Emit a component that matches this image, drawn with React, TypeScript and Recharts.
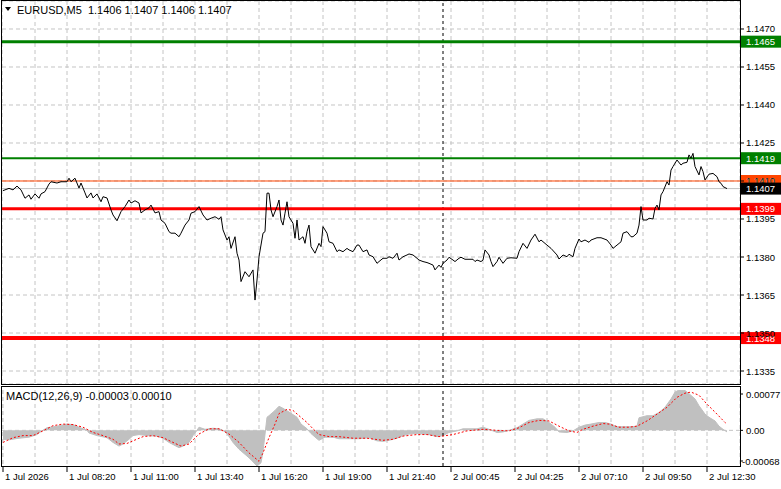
import {
  Area,
  CartesianGrid,
  ComposedChart,
  Line,
  LineChart,
  ReferenceLine,
  XAxis,
  YAxis,
} from "recharts";

// bar index (5-minute bars from the left edge) and close price
const closeSeries: [number, number][] = [
  [0, 1.14062], [3, 1.14071], [5, 1.14065], [7, 1.1408], [9, 1.14065], [11, 1.14032], [13, 1.14045], [14, 1.14028], [16, 1.14049], [18, 1.14032],
  [19, 1.14049], [21, 1.14058], [23, 1.14088], [24, 1.14097], [27, 1.14092], [29, 1.14097], [32, 1.14097], [33, 1.14111], [34, 1.14097], [36, 1.14111],
  [38, 1.14072], [39, 1.14092], [41, 1.14053], [42, 1.14033], [44, 1.14053], [45, 1.14033], [47, 1.14049], [49, 1.14018], [50, 1.14038], [52, 1.14033],
  [54, 1.13986], [55, 1.13966], [57, 1.13943], [59, 1.13979], [61, 1.13999], [63, 1.14025], [64, 1.14013], [66, 1.14022], [68, 1.14013], [69, 1.13974],
  [71, 1.13986], [73, 1.13994], [74, 1.14005], [76, 1.13974], [78, 1.13979], [79, 1.13946], [81, 1.13933], [83, 1.139], [84, 1.13894], [86, 1.13894],
  [88, 1.1388], [89, 1.13894], [91, 1.13926], [93, 1.13946], [94, 1.13973], [96, 1.13979], [98, 1.13999], [100, 1.13966], [102, 1.13946], [104, 1.13953],
  [106, 1.13959], [108, 1.13949], [109, 1.13959], [110, 1.13907], [112, 1.13867], [113, 1.1388], [114, 1.13834], [116, 1.1388], [117, 1.13815], [118, 1.13788],
  [119, 1.13703], [121, 1.13742], [123, 1.13722], [125, 1.13749], [126, 1.1363], [127, 1.13709], [128, 1.13801], [130, 1.13894], [131, 1.139], [132, 1.14052],
  [133, 1.14052], [134, 1.13986], [135, 1.13959], [137, 1.13999], [138, 1.14025], [139, 1.13946], [140, 1.13926], [141, 1.13973], [142, 1.14018], [143, 1.13959],
  [145, 1.13933], [146, 1.13874], [147, 1.13946], [148, 1.13867], [150, 1.1388], [151, 1.13854], [152, 1.139], [153, 1.13926], [154, 1.13841], [156, 1.13815],
  [158, 1.13854], [159, 1.13841], [160, 1.1392], [162, 1.13894], [163, 1.1386], [165, 1.13854], [167, 1.13821], [168, 1.13828], [170, 1.13821], [172, 1.13834],
  [173, 1.13828], [175, 1.13821], [177, 1.13847], [178, 1.13847], [180, 1.13821], [182, 1.13828], [183, 1.13808], [185, 1.13801], [187, 1.13775], [188, 1.13782],
  [190, 1.13795], [192, 1.13795], [193, 1.13801], [195, 1.13795], [197, 1.13815], [198, 1.13788], [200, 1.13801], [202, 1.13808], [203, 1.13812], [205, 1.13808],
  [207, 1.13795], [208, 1.13788], [210, 1.13782], [212, 1.13778], [213, 1.13775], [215, 1.13768], [216, 1.13749], [218, 1.13768], [219, 1.13759], [220, 1.13775],
  [222, 1.13788], [223, 1.13799], [225, 1.13788], [226, 1.13782], [228, 1.13795], [229, 1.13799], [231, 1.13791], [233, 1.13791], [235, 1.13791], [236, 1.13782],
  [237, 1.13788], [239, 1.13782], [240, 1.13788], [241, 1.13828], [243, 1.13808], [244, 1.13782], [245, 1.13762], [247, 1.13782], [248, 1.13799], [250, 1.13775],
  [252, 1.13795], [254, 1.13797], [257, 1.13795], [258, 1.13821], [260, 1.13854], [262, 1.13834], [264, 1.13867], [266, 1.1389], [268, 1.1386], [269, 1.13867],
  [272, 1.13847], [274, 1.13834], [277, 1.13808], [278, 1.13792], [280, 1.13808], [282, 1.13801], [283, 1.13811], [285, 1.13801], [286, 1.13834], [288, 1.13871],
  [289, 1.1386], [291, 1.13867], [293, 1.13858], [294, 1.13867], [297, 1.13876], [299, 1.13876], [302, 1.13867], [304, 1.13847], [305, 1.13834], [307, 1.13847],
  [309, 1.1386], [310, 1.13894], [312, 1.139], [314, 1.1388], [315, 1.1388], [317, 1.13894], [318, 1.13926], [319, 1.13999], [320, 1.13946], [322, 1.13946],
  [323, 1.13953], [325, 1.1395], [326, 1.13992], [327, 1.14005], [328, 1.13986], [329, 1.14045], [330, 1.14058], [332, 1.14097], [333, 1.14084], [334, 1.14143],
  [335, 1.14157], [337, 1.14183], [339, 1.14163], [340, 1.1417], [342, 1.14174], [343, 1.14203], [344, 1.1419], [345, 1.14209], [346, 1.14157], [348, 1.14124],
  [349, 1.14157], [350, 1.14137], [351, 1.14104], [353, 1.14127], [355, 1.1413], [357, 1.14117], [358, 1.14097], [359, 1.14091], [360, 1.14078], [362, 1.1407],
];

// MACD main (histogram) and signal, in units of 0.00001
const macdSeries: [number, number][] = [
  [0, -17], [3, -18], [8, -15], [13, -13], [17, -8], [19, -2], [22, 5], [27, 8], [32, 12], [35, 11],
  [38, 6], [42, 0], [43, -5], [47, -10], [52, -14], [55, -23], [58, -30], [60, -26], [63, -17], [65, -10],
  [68, -8], [72, -10], [77, -11], [80, -15], [83, -23], [88, -33], [90, -30], [93, -23], [95, -10], [97, 0],
  [98, 6], [101, 2], [105, 4], [108, 3], [110, 0], [112, -6], [115, -23], [118, -36], [122, -49], [124, -56],
  [127, -68], [129, -62], [130, -40], [132, 25], [133, 28], [136, 38], [138, 46], [140, 42], [143, 35], [147, 25],
  [149, 12], [152, 3], [154, -6], [157, -16], [158, -19], [161, -13], [165, -13], [168, -16], [173, -16], [178, -16],
  [183, -14], [187, -20], [190, -21], [193, -19], [197, -15], [200, -10], [203, -7], [207, -6], [210, -7], [213, -8],
  [217, -12], [220, -10], [223, -4], [227, -1], [230, 3], [237, 3], [240, 6], [243, 2], [247, -4], [250, -3],
  [253, 0], [257, 5], [260, 12], [263, 19], [267, 22], [270, 22], [273, 15], [276, 6], [278, -3], [282, -4],
  [285, -1], [288, 6], [291, 10], [294, 12], [298, 15], [301, 15], [304, 12], [307, 7], [310, 7], [314, 7],
  [317, 8], [318, 24], [322, 28], [325, 28], [328, 34], [331, 44], [334, 60], [336, 73], [338, 77], [341, 76],
  [343, 70], [346, 60], [348, 47], [351, 31], [353, 25], [356, 18], [358, 8], [360, 2], [362, -3],
];

const signalSeries: [number, number][] = [
  [0, -23], [5, -14], [10, -10], [15, -10], [20, -1], [25, 9], [30, 12], [35, 11], [40, 6], [45, -4],
  [50, -10], [55, -17], [58, -26], [62, -25], [65, -20], [70, -12], [75, -10], [80, -14], [85, -23], [89, -30],
  [93, -26], [98, -7], [103, 3], [108, 3], [113, -7], [118, -23], [123, -43], [128, -59], [130, -43], [133, -14],
  [136, 12], [138, 32], [142, 40], [145, 38], [148, 28], [152, 15], [155, 3], [158, -8], [163, -12], [168, -12],
  [175, -15], [182, -15], [190, -19], [195, -17], [200, -11], [207, -8], [212, -8], [218, -12], [225, -8], [232, -1],
  [240, 2], [247, 0], [253, -1], [258, 5], [263, 15], [268, 19], [273, 18], [278, 8], [283, -1], [287, -4],
  [290, 2], [295, 8], [300, 13], [303, 12], [308, 6], [313, 6], [317, 8], [322, 18], [327, 31], [332, 44],
  [337, 63], [341, 71], [344, 73], [348, 67], [352, 50], [357, 31], [361, 15], [362, 12],
];

const priceTicks = [1.1335, 1.135, 1.1365, 1.138, 1.1395, 1.141, 1.1425, 1.144, 1.1455, 1.147];
const supportLevels = [1.1399, 1.1348];
const resistanceLevels = [1.1465, 1.1419];
const askPrice = 1.141;
const bidPrice = 1.1407;
const daySeparatorBar = 220;
const gridBars = [16, 32, 48, 64, 80, 96, 112, 128, 144, 160, 176, 192, 208, 224, 240, 256, 272, 288, 304, 320, 336, 352];
const timeTickBars = [0, 16, 32, 48, 64, 80, 96, 112, 128, 144, 160, 176, 192, 208, 224, 240, 256, 272, 288, 304, 320, 336, 352];
const timeLabels = [
  "1 Jul 2026", "1 Jul 08:20", "1 Jul 11:00", "1 Jul 13:40", "1 Jul 16:20", "1 Jul 19:00",
  "1 Jul 21:40", "2 Jul 00:45", "2 Jul 04:25", "2 Jul 07:10", "2 Jul 09:50", "2 Jul 12:30",
];
const macdTicks = [-0.00068, 0, 0.00077];

const FONT = '"Liberation Sans", Arial, sans-serif';
const GRID = "#c4c4c4";

const priceData = closeSeries.map(([bar, close]) => ({ bar, close }));
const macdData = macdSeries.map(([bar, v]) => ({ bar, macd: v / 100000 }));
const signalData = signalSeries.map(([bar, v]) => ({ bar, signal: v / 100000 }));

function priceTag(value: number, bg: string) {
  return (props: any) => {
    const vb = props.viewBox;
    if (!vb) return null;
    const x = vb.x + vb.width + 1;
    const y = vb.y;
    return (
      <g>
        <rect x={x} y={y - 6} width={40} height={12} fill={bg} />
        <text x={x + 5} y={y + 3.5} fill="#fff" fontSize={9.5} fontFamily={FONT}>
          {value.toFixed(4)}
        </text>
      </g>
    );
  };
}

const PriceTick = (props: any) => {
  const { x, y, payload } = props;
  return (
    <text x={x} y={y + 3.5} fontSize={9.5} fontFamily={FONT} fill="#000">
      {Number(payload.value).toFixed(4)}
    </text>
  );
};

const MacdTick = (props: any) => {
  const { x, y, payload } = props;
  const v = Number(payload.value);
  const shift = v > 0 ? 4 : v < 0 ? -5 : 0;
  const label = v === 0 ? "0.00" : v.toFixed(5);
  const tx = v < 0 ? x - 4 : x;
  return (
    <g>
      <line x1={x - 6} x2={x - 3} y1={y + shift} y2={y + shift} stroke="#000" />
      <text x={tx} y={y + shift + 3.5} fontSize={9.5} fontFamily={FONT} fill="#000">
        {label}
      </text>
    </g>
  );
};

const TimeTick = (props: any) => {
  const { x, y, payload } = props;
  const bar = Number(payload.value);
  if (bar % 32 !== 0) return null;
  return (
    <g>
      <line x1={x} x2={x} y1={y + 1} y2={y + 6} stroke="#000" />
      <text x={x + 2} y={y + 14} fontSize={9.5} fontFamily={FONT} fill="#000">
        {timeLabels[bar / 32]}
      </text>
    </g>
  );
};

export default function App() {
  return (
    <div
      style={{
        position: "absolute",
        left: 0,
        top: 0,
        width: 781,
        height: 489,
        background: "#fff",
        overflow: "hidden",
        fontFamily: FONT,
      }}
    >
      <div style={{ position: "absolute", left: 0, top: 0 }}>
        <LineChart width={781} height={385} data={priceData} margin={{ top: 1, right: 0, bottom: 1, left: 2 }}>
          <CartesianGrid stroke={GRID} strokeDasharray="4 3" />
          <XAxis type="number" dataKey="bar" domain={[-0.5, 368.5]} ticks={gridBars} allowDataOverflow hide />
          <YAxis
            orientation="right"
            width={41}
            domain={[1.132987, 1.148105]}
            ticks={priceTicks}
            allowDataOverflow
            axisLine={false}
            tickLine={{ stroke: "#000" }}
            tickSize={4}
            tickMargin={2}
            tick={<PriceTick />}
            interval={0}
          />
          <ReferenceLine x={daySeparatorBar} stroke="#000" strokeDasharray="3 3" />
          <ReferenceLine y={bidPrice} stroke="#c0c0c0" strokeWidth={1} />
          <ReferenceLine y={askPrice} stroke="#ff4500" strokeWidth={1} label={priceTag(askPrice, "#ff4500")} />
          <ReferenceLine y={resistanceLevels[0]} stroke="#008000" strokeWidth={3} label={priceTag(resistanceLevels[0], "#008000")} />
          <ReferenceLine y={resistanceLevels[1]} stroke="#008000" strokeWidth={2} label={priceTag(resistanceLevels[1], "#008000")} />
          <ReferenceLine y={supportLevels[0]} stroke="#ff0000" strokeWidth={3} label={priceTag(supportLevels[0], "#ff0000")} />
          <ReferenceLine y={supportLevels[1]} stroke="#ff0000" strokeWidth={4} label={priceTag(supportLevels[1], "#ff0000")} />
          <ReferenceLine y={bidPrice} stroke="none" label={priceTag(bidPrice, "#000")} />
          <Line
            type="linear"
            dataKey="close"
            stroke="#000"
            strokeWidth={1}
            dot={false}
            isAnimationActive={false}
          />
        </LineChart>
      </div>

      <div style={{ position: "absolute", left: 0, top: 386 }}>
        <ComposedChart width={781} height={103} margin={{ top: 4, right: 0, bottom: 0, left: 2 }}>
          <CartesianGrid stroke={GRID} strokeDasharray="4 3" horizontal={false} />
          <XAxis
            type="number"
            dataKey="bar"
            domain={[-0.5, 368.5]}
            ticks={timeTickBars}
            allowDataOverflow
            height={23}
            axisLine={false}
            tickLine={false}
            tickSize={0}
            tickMargin={0}
            tick={<TimeTick />}
            interval={0}
          />
          <YAxis
            orientation="right"
            width={41}
            domain={[-0.00068, 0.00077]}
            ticks={macdTicks}
            allowDataOverflow
            axisLine={false}
            tickLine={false}
            tickSize={4}
            tickMargin={2}
            tick={<MacdTick />}
            interval={0}
          />
          <ReferenceLine y={0} stroke={GRID} strokeDasharray="4 3" />
          <Area
            data={macdData}
            dataKey="macd"
            type="linear"
            fill="#c0c0c0"
            fillOpacity={1}
            stroke="#c0c0c0"
            baseValue={0}
            isAnimationActive={false}
          />
          <ReferenceLine x={daySeparatorBar} stroke="#000" strokeDasharray="3 3" />
          <Line
            data={signalData}
            dataKey="signal"
            type="linear"
            stroke="#ff0000"
            strokeWidth={1}
            strokeDasharray="2 2"
            dot={false}
            isAnimationActive={false}
          />
        </ComposedChart>
      </div>

      {/* pane borders */}
      <div style={{ position: "absolute", left: 1, top: 0, width: 740, height: 385, border: "1px solid #000", boxSizing: "border-box", pointerEvents: "none" }} />
      <div style={{ position: "absolute", left: 1, top: 386, width: 740, height: 81, border: "1px solid #000", boxSizing: "border-box", pointerEvents: "none" }} />

      {/* header */}
      <svg style={{ position: "absolute", left: 0, top: 0 }} width={20} height={20}>
        <polygon points="5,7 11,7 8,11" fill="#000" />
      </svg>
      <div style={{ position: "absolute", left: 17, top: 3, fontSize: 11, lineHeight: "14px", color: "#000", whiteSpace: "pre" }}>
        EURUSD,M5  1.1406 1.1407 1.1406 1.1407
      </div>
      <div style={{ position: "absolute", left: 6, top: 389, fontSize: 11, lineHeight: "14px", color: "#000", whiteSpace: "pre" }}>
        MACD(12,26,9) -0.00003 0.00010
      </div>
    </div>
  );
}
